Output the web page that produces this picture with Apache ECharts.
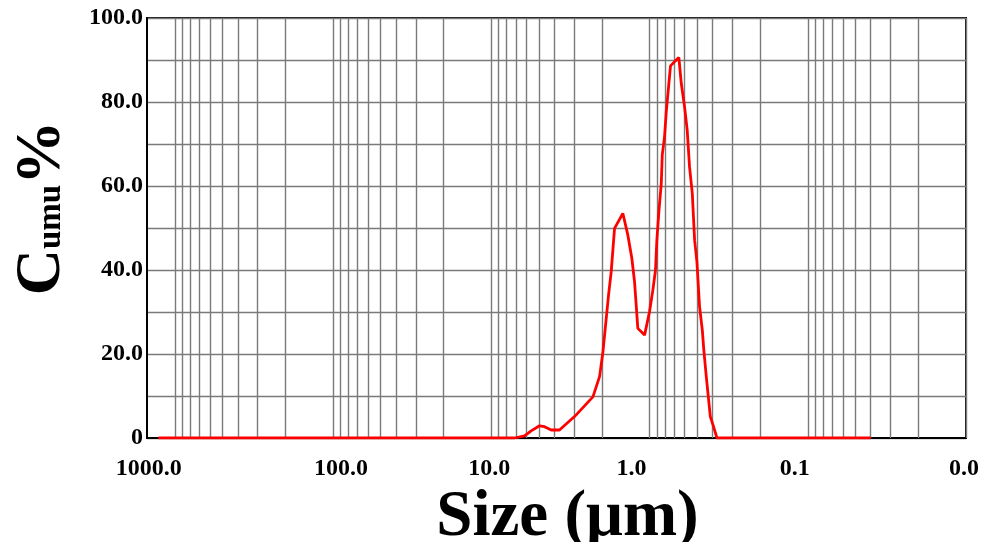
<!DOCTYPE html>
<html><head><meta charset="utf-8">
<script src="https://cdn.jsdelivr.net/npm/echarts@6/dist/echarts.min.js"></script>
<style>html,body{margin:0;padding:0;background:#fff}#c{width:989px;height:542px}</style>
</head><body><div id="c"></div>
<script>
// particle size (µm) and cumulative value
const sizes = [1270, 7.14, 6.17, 5.60, 4.96, 4.61, 4.18, 3.71, 2.98, 2.28, 2.07, 1.97, 1.905, 1.816, 1.747, 1.664, 1.475, 1.371, 1.294, 1.244, 1.186, 1.075, 1.049, 1.0, 0.953, 0.917, 0.899, 0.873, 0.843, 0.831, 0.804, 0.784, 0.755, 0.737, 0.678, 0.653, 0.630, 0.601, 0.578, 0.559, 0.537, 0.519, 0.502, 0.483, 0.464, 0.454, 0.438, 0.424, 0.413, 0.394, 0.375, 0.040];
const cumu  = [0, 0, 0.5, 1.7, 2.9, 2.7, 1.9, 1.9, 5.1, 9.8, 14.6, 20.5, 26.1, 34.0, 39.6, 49.9, 53.5, 48.3, 42.8, 37.2, 26.1, 24.5, 24.3, 30.1, 35.2, 40.0, 47.1, 53.9, 60.6, 67.4, 71.7, 77.7, 84.4, 88.6, 90.0, 90.6, 84.4, 78.9, 73.3, 64.6, 58.3, 47.1, 42.0, 31.3, 25.7, 21.0, 14.6, 9.4, 5.1, 2.7, 0, 0];

const xTickValues = [1000, 100, 10, 1, 0.1, 0.01];
const xTickLabels = ['1000.0', '100.0', '10.0', '1.0', '0.1', '0.0'];
const yTickLabels = {0: '0', 20: '20.0', 40: '40.0', 60: '60.0', 80: '80.0', 100: '100.0'};
const decadeBases = [100, 10, 1, 0.1, 0.01];
const digits = [1, 2, 3, 4, 5, 6, 7, 8, 9];

// log grid lines (1..9 per decade)
const gridVals = [1000];
decadeBases.forEach(b => digits.forEach(d => gridVals.push(+(d * b).toPrecision(6))));

// horizontal shifts of tick labels (px) to mimic the reference placement
const labelShift = [-26, 8, -2, -18, -13, -2];
const FONT = '"Liberation Serif", "Times New Roman", serif';
const rich = {};
labelShift.forEach((s, i) => {
  rich['s' + i] = {
    fontFamily: FONT, fontWeight: 'bold', fontSize: 24, color: '#000',
    padding: s >= 0 ? [0, 0, 0, 2 * s] : [0, -2 * s, 0, 0]
  };
});

const chart = echarts.init(document.getElementById('c'), null, {renderer: 'canvas'});
chart.setOption({
  animation: false,
  backgroundColor: '#fff',
  grid: {left: 147, right: 23, top: 18, bottom: 104, containLabel: false, outerBoundsMode: 'none',
         show: true, borderColor: '#111', borderWidth: 2, backgroundColor: 'transparent'},
  xAxis: {
    type: 'log', logBase: 10, min: 0.01, max: 1500, inverse: true,
    axisLine: {show: true, onZero: false, lineStyle: {color: '#000', width: 2}},
    axisTick: {show: false},
    splitLine: {show: false},
    axisLabel: {
      margin: 19, showMinLabel: true, showMaxLabel: true,
      formatter: function (v) {
        for (let i = 0; i < xTickValues.length; i++) {
          if (Math.abs(Math.log10(v) - Math.log10(xTickValues[i])) < 1e-6) return '{s' + i + '|' + xTickLabels[i] + '}';
        }
        return '';
      },
      rich: rich
    },
    name: 'Size (μm)', nameLocation: 'middle', nameGap: 42,
    nameTextStyle: {fontFamily: FONT, fontWeight: 'bold', fontSize: 65, color: '#000', padding: [0, 0, 0, 22]}
  },
  yAxis: {
    type: 'value', min: 0, max: 100, interval: 10,
    axisLine: {show: true, lineStyle: {color: '#000', width: 2}},
    axisTick: {show: false},
    splitLine: {show: true, lineStyle: {color: '#7a7a7a', width: 1.4}},
    axisLabel: {
      margin: 4, fontFamily: FONT, fontWeight: 'bold', fontSize: 24, color: '#000',
      formatter: v => (yTickLabels[v] !== undefined ? yTickLabels[v] : '')
    },
    name: '{a|C}{b|umu}{a|%}', nameLocation: 'middle', nameRotate: 90, nameGap: 73,
    nameTextStyle: {
      padding: [0, 0, 0, 40],
      rich: {
        a: {fontFamily: FONT, fontWeight: 'bold', fontSize: 64, color: '#000', verticalAlign: 'bottom'},
        b: {fontFamily: FONT, fontWeight: 'bold', fontSize: 33, color: '#000', verticalAlign: 'bottom', padding: [0, 0, 6, 0]}
      }
    }
  },
  series: [{
    type: 'line', z: 3,
    data: sizes.map((s, i) => [s, cumu[i]]),
    showSymbol: false, symbol: 'none',
    lineStyle: {color: '#ff0000', width: 2.8},
    emphasis: {disabled: true},
    markLine: {
      z: 1, silent: true, symbol: ['none', 'none'], animation: false,
      label: {show: false},
      lineStyle: {color: '#7a7a7a', width: 1.4, type: 'solid'},
      emphasis: {disabled: true},
      data: gridVals.map(v => ({xAxis: v}))
    }
  }]
});
</script></body></html>
